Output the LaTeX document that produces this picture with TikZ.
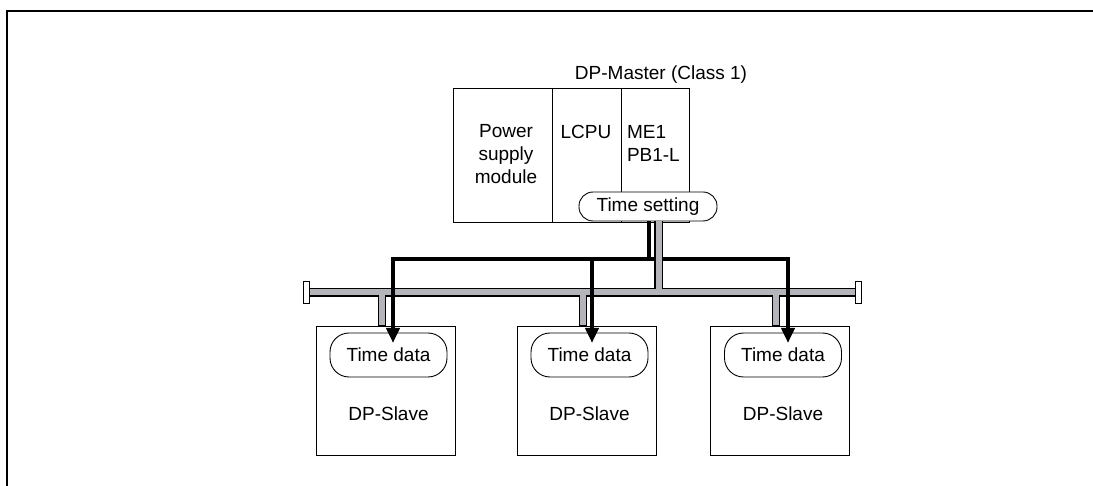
\documentclass[tikz,border=0pt]{standalone}
\usepackage{fontspec}
\setmainfont{Liberation Sans}
\usetikzlibrary{arrows.meta}
\definecolor{pipegray}{RGB}{180,181,186}
\tikzset{
  every node/.style={inner sep=0pt, outer sep=0pt},
  txt/.style={font=\fontsize{19}{23}\selectfont},
  box/.style={draw=black, line width=0.9pt, fill=white},
  roundbox/.style={draw=black, line width=0.9pt, fill=white, rounded corners=14pt},
  pipeout/.style={draw=black, line width=8.5pt},
  pipein/.style={draw=pipegray, line width=6pt},
  sig/.style={draw=black, line width=4pt},
  sigarrow/.style={draw=black, line width=4pt, -{Triangle[width=13pt,length=15pt]}},
  endcapbox/.style={draw=black, line width=0.9pt, fill=white, minimum width=6pt, minimum height=22pt},
  frameline/.style={draw=black, line width=2pt},
}
\begin{document}
\begin{tikzpicture}[x=1pt,y=-1pt]
\useasboundingbox (0,0) rectangle (1093,486);
% frame
\draw[frameline] (7,486) -- (7,11) -- (1093,11);

% master modules
\node[box, anchor=north west, minimum width=99pt, minimum height=134pt] (psm) at (453,88) {};
\node[box, anchor=north west, minimum width=69pt, minimum height=134pt] (lcpu) at (552,88) {};
\node[box, anchor=north west, minimum width=68pt, minimum height=134pt] (me1) at (621,88) {};
\node[txt, anchor=base] (mastertitle) at (661,80) {DP-Master (Class 1)};
\node[txt, anchor=north, align=center] (psmtxt) at (506,124) {Power\\supply\\module};
\node[txt, anchor=base] (lcputxt) at (586,139) {LCPU};
\node[txt, anchor=base west, align=left] (me1txt) at (627,139) {ME1};
\node[txt, anchor=base west, align=left] (pbtxt) at (627,162) {PB1-L};
\node[roundbox, txt, minimum width=138pt, minimum height=29pt] (ts) at (648,206.5) {Time setting};

% slaves
\node[box, minimum width=139pt, minimum height=129pt] (sL) at (385.5,390.5) {};
\node[box, minimum width=139pt, minimum height=129pt] (sM) at (586.5,390.5) {};
\node[box, minimum width=139pt, minimum height=129pt] (sR) at (780,390.5) {};
\node[roundbox, txt, rounded corners=19pt, minimum width=117pt, minimum height=44pt] (tdL) at (388.5,355) {Time data};
\node[roundbox, txt, rounded corners=19pt, minimum width=117pt, minimum height=44pt] (tdM) at (589.5,355) {Time data};
\node[roundbox, txt, rounded corners=19pt, minimum width=117pt, minimum height=44pt] (tdR) at (783,355) {Time data};
\node[txt] (slL) at (388.5,414) {DP-Slave};
\node[txt] (slM) at (589.5,414) {DP-Slave};
\node[txt] (slR) at (783,414) {DP-Slave};

% junction coordinates
\coordinate (jT) at (649,259);
\coordinate (jL) at (393,259);
\coordinate (jM) at (592,259);
\coordinate (jR) at (788,259);
\coordinate (busL) at (309,292.5);
\coordinate (busR) at (855,292.5);
\coordinate (bM) at (658.5,292.5);
\coordinate (bL) at (382,292.5);
\coordinate (bMd) at (583,292.5);
\coordinate (bR) at (776,292.5);

% black distribution line (under the gray riser)
\draw[sig] ([xshift=-2pt]jL) -- ([xshift=2pt]jR);
\draw[sig] (ts.south -| jT) -- ([yshift=-2pt]jT);

% gray bus: outlines
\draw[pipeout] (busL) -- (busR);
\draw[pipeout] (ts.south -| bM) -- (bM);
\draw[pipeout] (bL) -- (sL.north -| bL);
\draw[pipeout] (bMd) -- (sM.north -| bMd);
\draw[pipeout] (bR) -- (sR.north -| bR);
% gray bus: fill
\draw[pipein] (busL) -- (busR);
\draw[pipein] ([yshift=-0.5pt]ts.south -| bM) -- (bM);
\draw[pipein] (bL) -- ([yshift=0.5pt]sL.north -| bL);
\draw[pipein] (bMd) -- ([yshift=0.5pt]sM.north -| bMd);
\draw[pipein] (bR) -- ([yshift=0.5pt]sR.north -| bR);
% terminators
\node[endcapbox] (capL) at (306,292) {};
\node[endcapbox] (capR) at (858.5,292) {};

% arrows to slaves
\draw[sigarrow] ([yshift=2pt]jL) -- ([yshift=-10pt]tdL.north -| jL);
\draw[sigarrow] ([yshift=2pt]jM) -- ([yshift=-10pt]tdM.north -| jM);
\draw[sigarrow] ([yshift=2pt]jR) -- ([yshift=-10pt]tdR.north -| jR);
\end{tikzpicture}
\end{document}
